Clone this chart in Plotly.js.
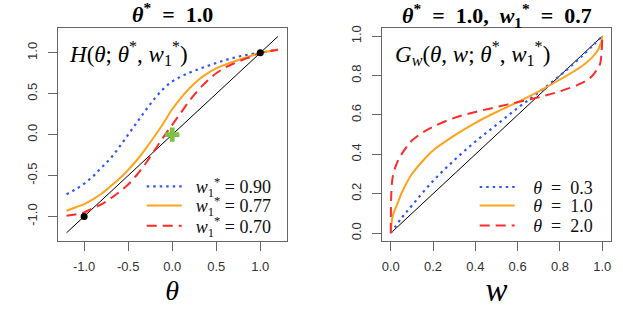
<!DOCTYPE html>
<html>
<head>
<meta charset="utf-8">
<script src="https://cdn.plot.ly/plotly-3.0.1.min.js"></script>
<style>html,body{margin:0;padding:0;background:#fff;}#chart{width:623px;height:325px;}</style>
</head>
<body>
<div id="chart"></div>
<script>
// ---------- Left panel data: H(theta; theta*, w1*) ----------
const thetaGrid = [-1.2,-1.1,-1.0,-0.9,-0.8,-0.7,-0.6,-0.5,-0.4,-0.3,-0.2,-0.1,0,0.1,0.2,0.3,0.4,0.5,0.6,0.7,0.8,0.9,1.0,1.1,1.2];
const H_w090 = [-0.73,-0.67,-0.60,-0.51,-0.40,-0.29,-0.15,0.0,0.15,0.30,0.44,0.56,0.65,0.71,0.76,0.80,0.84,0.875,0.91,0.94,0.965,0.985,1.0,1.02,1.04];
const H_w077 = [-0.93,-0.89,-0.85,-0.79,-0.72,-0.63,-0.54,-0.43,-0.31,-0.17,-0.02,0.14,0.31,0.45,0.57,0.67,0.75,0.81,0.855,0.895,0.93,0.965,1.0,1.02,1.04];
const H_w070 = [-0.99,-0.975,-0.95,-0.90,-0.85,-0.78,-0.70,-0.61,-0.49,-0.35,-0.19,-0.03,0.12,0.27,0.42,0.55,0.66,0.75,0.82,0.87,0.915,0.955,1.0,1.02,1.035];
const leftIdentity = [-1.2, 1.2];
const leftFixedX = [-1, 1];
const leftFixedY = [-1, 1];
const leftCrossX = [0];
const leftCrossY = [0];
const leftLegendNames = ['<i>w</i><sub>1</sub><sup>*</sup> = 0.90','<i>w</i><sub>1</sub><sup>*</sup> = 0.77','<i>w</i><sub>1</sub><sup>*</sup> = 0.70'];
const leftTickVals = [-1.0,-0.5,0.0,0.5,1.0];
const leftTickText = ['-1.0','-0.5','0.0','0.5','1.0'];

// ---------- Right panel data: G_w(theta, w; theta*, w1*) ----------
const wBlue = [0,0.05,0.1,0.2,0.3,0.4,0.5,0.6,0.7,0.8,0.9,1.0];
const G_t03 = [0,0.075,0.14,0.265,0.37,0.465,0.55,0.635,0.715,0.80,0.895,1.0];
const wOrange = [0,0.002,0.005,0.01,0.02,0.03,0.05,0.08,0.1,0.15,0.2,0.3,0.4,0.5,0.6,0.7,0.8,0.9,0.95,0.98,0.99,0.997,1.0];
const G_t10 = [0,0.03,0.06,0.09,0.12,0.145,0.20,0.265,0.30,0.365,0.42,0.495,0.56,0.615,0.665,0.72,0.78,0.845,0.89,0.93,0.955,0.975,1.0];
const wRed = [0,0.001,0.003,0.006,0.01,0.02,0.04,0.07,0.1,0.15,0.2,0.3,0.4,0.5,0.6,0.7,0.8,0.9,0.95,0.98,0.99,0.997,1.0];
const G_t20 = [0,0.14,0.21,0.26,0.29,0.33,0.38,0.43,0.47,0.51,0.54,0.585,0.615,0.64,0.665,0.69,0.72,0.76,0.795,0.84,0.86,0.92,1.0];
const rightIdentity = [0, 1];
const rightLegendNames = ['<i>θ</i>\u00a0 = \u00a00.3','<i>θ</i>\u00a0 = \u00a01.0','<i>θ</i>\u00a0 = \u00a02.0'];
const rightTickVals = [0,0.2,0.4,0.6,0.8,1.0];
const rightTickText = ['0.0','0.2','0.4','0.6','0.8','1.0'];

const BLUE = '#3355ff', ORANGE = '#ffa31a', RED = '#ff2a2a';
const W = 623, Hh = 325;
const NB2 = '\u00a0\u00a0';
const NB3 = '\u00a0\u00a0\u00a0';
const SERIF = '"Liberation Serif", "Times New Roman", serif';

const traces = [
  {x: leftIdentity, y: leftIdentity, xaxis:'x', yaxis:'y', mode:'lines', line:{color:'#000', width:1}, showlegend:false, hoverinfo:'skip'},
  {x: thetaGrid, y: H_w090, xaxis:'x', yaxis:'y', mode:'lines', name:NB2+leftLegendNames[0], legend:'legend', line:{color:BLUE, width:2.2, dash:'2.5px,4px', shape:'spline'}},
  {x: thetaGrid, y: H_w077, xaxis:'x', yaxis:'y', mode:'lines', name:NB2+leftLegendNames[1], legend:'legend2', line:{color:ORANGE, width:2, shape:'spline'}},
  {x: thetaGrid, y: H_w070, xaxis:'x', yaxis:'y', mode:'lines', name:NB2+leftLegendNames[2], legend:'legend3', line:{color:RED, width:2, dash:'10px,6px', shape:'spline'}},
  {x: leftFixedX, y: leftFixedY, xaxis:'x', yaxis:'y', mode:'markers', marker:{color:'#000', size:7}, showlegend:false},
  {x: leftCrossX, y: leftCrossY, xaxis:'x', yaxis:'y', mode:'markers', marker:{color:'#7dc242', size:12, symbol:'cross'}, showlegend:false},

  {x: rightIdentity, y: rightIdentity, xaxis:'x2', yaxis:'y2', mode:'lines', line:{color:'#000', width:1}, showlegend:false, hoverinfo:'skip'},
  {x: wBlue, y: G_t03, xaxis:'x2', yaxis:'y2', mode:'lines', name:NB3+rightLegendNames[0], legend:'legend4', line:{color:BLUE, width:2.2, dash:'2.5px,4px', shape:'spline'}},
  {x: wOrange, y: G_t10, xaxis:'x2', yaxis:'y2', mode:'lines', name:NB3+rightLegendNames[1], legend:'legend5', line:{color:ORANGE, width:2, shape:'spline'}},
  {x: wRed, y: G_t20, xaxis:'x2', yaxis:'y2', mode:'lines', name:NB3+rightLegendNames[2], legend:'legend6', line:{color:RED, width:2, dash:'10px,6px', shape:'spline'}}
];

const tickFont = {family:'"Liberation Sans", Arial, sans-serif', size:13, color:'#333'};
const axisCommon = {showline:true, mirror:true, linecolor:'#666', linewidth:1, ticks:'outside', ticklen:9, tickcolor:'#666', tickwidth:1,
  showgrid:false, zeroline:false, tickfont:tickFont, automargin:false, fixedrange:true};

function leg(xpx, ypx){
  return {bgcolor:'rgba(0,0,0,0)', borderwidth:0, xanchor:'left', yanchor:'middle', itemwidth:35,
    font:{family:SERIF, size:18, color:'#111'}, x:xpx/W, y:1-ypx/Hh};
}

const layout = {
  width: W, height: Hh,
  margin:{l:0, r:0, t:0, b:0},
  paper_bgcolor:'#fff', plot_bgcolor:'#fff',
  xaxis: Object.assign({}, axisCommon, {domain:[57.7/W, 286.7/W], range:[-1.3,1.3], tickvals:leftTickVals, ticktext:leftTickText, anchor:'y', ticklabelstandoff:4,
    title:{text:'<i>θ</i>', font:{family:SERIF, size:28, color:'#000'}, standoff:7}}),
  yaxis: Object.assign({}, axisCommon, {domain:[1-241/Hh, 1-28.3/Hh], range:[-1.3,1.3], tickvals:leftTickVals, ticktext:leftTickText, tickangle:-90, anchor:'x', ticklabelstandoff:6}),
  xaxis2: Object.assign({}, axisCommon, {domain:[382.3/W, 610.7/W], range:[-0.04,1.04], tickvals:rightTickVals, ticktext:rightTickText, anchor:'y2', ticklabelstandoff:4,
    title:{text:'<i>w</i>', font:{family:SERIF, size:33, color:'#000'}, standoff:5}}),
  yaxis2: Object.assign({}, axisCommon, {domain:[1-241/Hh, 1-28.3/Hh], range:[-0.04,1.04], tickvals:rightTickVals, ticktext:rightTickText, tickangle:-90, anchor:'x2', ticklabelstandoff:6}),
  legend: leg(141.7, 186.7),
  legend2: leg(141.7, 205.7),
  legend3: leg(141.7, 226),
  legend4: leg(474.7, 187.3),
  legend5: leg(474.7, 205.7),
  legend6: leg(474.7, 225.7),
  annotations:[
    {xref:'paper', yref:'paper', x:172.2/W, y:1-13.5/Hh, xanchor:'center', yanchor:'middle', showarrow:false,
     text:'<b><i>θ</i><sup>*</sup>\u00a0 = \u00a01.0</b>', font:{family:SERIF, size:22, color:'#000'}},
    {xref:'paper', yref:'paper', x:496.5/W, y:1-15/Hh, xanchor:'center', yanchor:'middle', showarrow:false,
     text:'<b><i>θ</i><sup>*</sup>\u00a0 = \u00a01.0,\u00a0 <i>w</i><sub>1</sub><sup>*</sup>\u00a0 = \u00a00.7</b>', font:{family:SERIF, size:22, color:'#000'}},
    {xref:'paper', yref:'paper', x:67/W, y:1-53/Hh, xanchor:'left', yanchor:'middle', showarrow:false,
     text:'<i>H</i>(<i>θ</i>; <i>θ</i><sup>*</sup>, <i>w</i><sub>1</sub><sup>*</sup>)', font:{family:SERIF, size:23, color:'#000'}},
    {xref:'paper', yref:'paper', x:393/W, y:1-53/Hh, xanchor:'left', yanchor:'middle', showarrow:false,
     text:'<i>G</i><sub><i>w</i></sub>(<i>θ</i>, <i>w</i>; <i>θ</i><sup>*</sup>, <i>w</i><sub>1</sub><sup>*</sup>)', font:{family:SERIF, size:23, color:'#000'}}
  ]
};

Plotly.newPlot('chart', traces, layout, {staticPlot:true, displayModeBar:false});
</script>
</body>
</html>
